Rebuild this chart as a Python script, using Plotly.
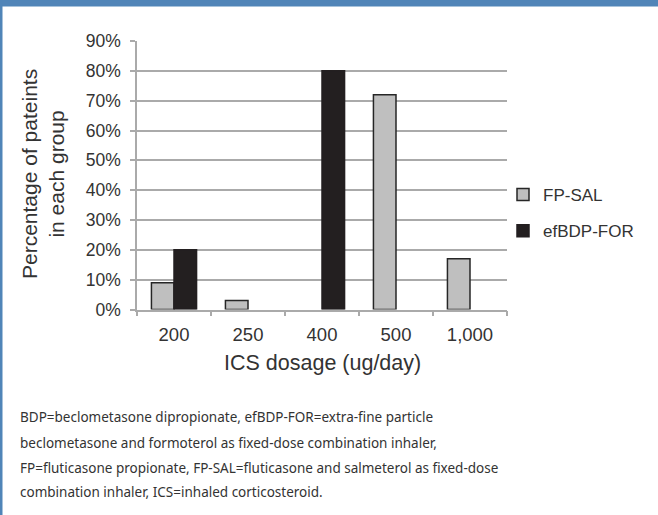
import plotly.graph_objects as go

categories = ["200", "250", "400", "500", "1,000"]
fp_sal = [0.09, 0.03, None, 0.72, 0.17]
efbdp_for = [0.20, None, 0.80, None, None]
y_ticks = [0, 0.1, 0.2, 0.3, 0.4, 0.5, 0.6, 0.7, 0.8, 0.9]
caption_lines = [
    "BDP=beclometasone dipropionate, efBDP-FOR=extra-fine particle",
    "beclometasone and formoterol as fixed-dose combination inhaler,",
    "FP=fluticasone propionate, FP-SAL=fluticasone and salmeterol as fixed-dose",
    "combination inhaler, ICS=inhaled corticosteroid.",
]

W, H = 658, 515
FONT = "Liberation Sans, Arial, sans-serif"
GRID = "#aaaaaa"
TXT = "#333333"
BLUE = "#5185b8"

fig = go.Figure()
fig.add_trace(go.Bar(
    x=categories, y=fp_sal, name="FP-SAL", legendgroup="a",
    marker=dict(color="#bfbfbf", line=dict(color="#262626", width=1.5)),
))
fig.add_trace(go.Bar(
    x=categories, y=efbdp_for, name="efBDP-FOR", legendgroup="b",
    marker=dict(color="#231f20", line=dict(color="#231f20", width=1.5)),
))

x0, x1 = 137, 507
y_top, y_bot = 41, 309.5

annotations = []
caption_y = [416.7, 442.7, 467.5, 492]
for line, py in zip(caption_lines, caption_y):
    annotations.append(dict(
        text=line, xref="paper", yref="paper", x=18 / W, y=1 - py / H,
        xanchor="left", yanchor="middle", showarrow=False,
        font=dict(family="Noto Sans", size=13.5, color=TXT),
    ))
annotations.append(dict(
    text="Percentage of pateints<br>in each group", xref="paper", yref="paper",
    x=43 / W, y=1 - 174 / H, xanchor="center", yanchor="middle",
    textangle=-90, showarrow=False,
    font=dict(family=FONT, size=21, color=TXT),
))
annotations.append(dict(
    text="ICS dosage (ug/day)", xref="paper", yref="paper",
    x=(x0 + x1) / 2 / W, y=1 - 363 / H, xanchor="center", yanchor="middle",
    showarrow=False, font=dict(family=FONT, size=21.5, color=TXT),
))

shapes = [
    dict(type="rect", xref="paper", yref="paper", x0=0, x1=1, y0=1 - 6 / H, y1=1,
         fillcolor=BLUE, line=dict(color=BLUE, width=1), layer="above"),
    dict(type="rect", xref="paper", yref="paper", x0=0, x1=2 / W, y0=0, y1=1,
         fillcolor=BLUE, line=dict(color=BLUE, width=1), layer="above"),
]

fig.update_layout(
    width=W, height=H, autosize=False,
    margin=dict(l=0, r=0, t=0, b=0, pad=0, autoexpand=False),
    paper_bgcolor="white", plot_bgcolor="white",
    barmode="group", bargap=0.39, bargroupgap=0,
    font=dict(family=FONT, size=17, color=TXT),
    showlegend=True,
    xaxis=dict(
        domain=[x0 / W, x1 / W], type="category", automargin=False,
        showline=True, linecolor=GRID, linewidth=1.5,
        tickson="boundaries", ticks="outside", ticklen=5, tickcolor=GRID, tickwidth=1.5,
        showgrid=False, ticklabelstandoff=8,
        tickfont=dict(family=FONT, size=18.5, color=TXT),
    ),
    yaxis=dict(
        domain=[1 - y_bot / H, 1 - y_top / H], range=[0, 0.9], automargin=False,
        tickvals=y_ticks, tickformat=".0%",
        showline=True, linecolor=GRID, linewidth=1.5,
        ticks="outside", ticklen=5, tickcolor=GRID, tickwidth=1.5,
        showgrid=True, gridcolor=GRID, gridwidth=1.5, zeroline=False,
        ticklabelstandoff=6,
        tickfont=dict(family=FONT, size=17.5, color=TXT),
    ),
    legend=dict(x=503 / W, y=1 - 177 / H, xanchor="left", yanchor="top",
                tracegroupgap=11, traceorder="grouped",
                font=dict(family=FONT, size=17, color=TXT), bgcolor="rgba(0,0,0,0)"),
    annotations=annotations,
    shapes=shapes,
)

fig.write_html(
    "out.html",
    config={"displayModeBar": False},
    post_script="document.body.style.margin='0px';",
)
